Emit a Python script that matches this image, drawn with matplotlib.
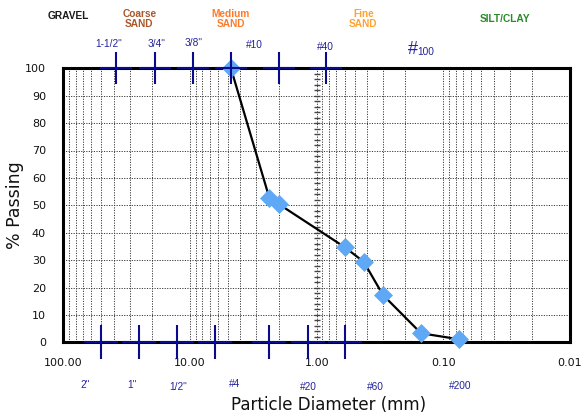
import numpy as np
import matplotlib
matplotlib.use("Agg")
import matplotlib.pyplot as plt
from matplotlib.ticker import LogLocator, FixedLocator, FuncFormatter

# ---- data ----
diam_mm = [4.75, 2.36, 2.0, 0.6, 0.425, 0.3, 0.15, 0.075]
pct_passing = [100, 52.6, 50.5, 34.7, 29.4, 17.3, 3.3, 1.1]

top_sieves = [38.1, 19.05, 9.5, 4.75, 2.0, 0.85]
bottom_sieves = [50.8, 25.4, 12.7, 6.35, 2.36, 1.18, 0.6]

x_ticks = [100, 10, 1, 0.1, 0.01]
y_ticks = list(range(0, 101, 10))

# label, pixel x, pixel y
top_sieve_labels = [('1-1/2"', 108.3, 44.3), ('3/4"', 156.7, 44.3), ('3/8"', 193.3, 43.3),
                    ('#10', 254.3, 44.8), ('#40', 325.5, 46.7)]
bottom_sieve_labels = [('2"', 85, 385), ('1"', 131.7, 385), ('1/2"', 178, 387),
                       ('#4', 235, 384), ('#20', 308, 386.7), ('#60', 375, 386.7),
                       ('#200', 460, 385.7)]
soil_classes = [('GRAVEL', 68.3, 16, '#1a1a1a'), ('Coarse\nSAND', 139.3, 19, '#A9572A'),
                ('Medium\nSAND', 230.7, 19, '#FF7A28'), ('Fine\nSAND', 363.3, 19, '#FFA22E'),
                ('SILT/CLAY', 505, 19.5, '#2A8A2A')]

W, H = 583, 416
fig = plt.figure(figsize=(W / 100, H / 100), dpi=100)
ax = fig.add_axes([63.3 / W, 1 - 342.3 / H, (570 - 63.3) / W, (342.3 - 68.3) / H])

ax.set_xscale('log')
ax.set_xlim(100, 0.01)
ax.set_ylim(0, 100)

dot = (0, (1.2, 1.4))
ax.xaxis.set_major_locator(FixedLocator(x_ticks))
ax.xaxis.set_minor_locator(LogLocator(base=10, subs=np.arange(2, 10)))
ax.xaxis.set_major_formatter(FuncFormatter(lambda v, p: f"{v:.2f}"))
ax.xaxis.set_minor_formatter(FuncFormatter(lambda v, p: ""))
ax.set_yticks(y_ticks)
ax.grid(True, which='both', axis='x', color='#3a3a3a', linestyle=dot, linewidth=0.7)
ax.grid(True, which='major', axis='y', color='#3a3a3a', linestyle=dot, linewidth=0.7)
ax.tick_params(axis='both', which='both', length=0)
ax.tick_params(axis='x', pad=11, labelsize=8, labelcolor='#111111')
ax.tick_params(axis='y', pad=12.5, labelsize=8, labelcolor='#111111')
for s in ax.spines.values():
    s.set_linewidth(2.2)
    s.set_color('black')

# little tick ladder at x = 1
ax.plot([1] * 51, np.arange(0, 101, 2), linestyle='none', marker='_', markersize=5,
        markeredgewidth=1.0, color='#444444', zorder=2, clip_on=False)

# gradation curve
ax.plot(diam_mm, pct_passing, color='black', linewidth=1.6, zorder=3)
ax.plot(diam_mm, pct_passing, linestyle='none', marker='D', markersize=9.5,
        markerfacecolor='#5EA8F6', markeredgecolor='#5EA8F6', markeredgewidth=0.5,
        zorder=4, clip_on=False)

# sieve crosses
navy = '#0A0A8C'
ax.plot(top_sieves, [100] * len(top_sieves), linestyle='none', marker='+', markersize=23,
        markeredgewidth=1.5, color=navy, zorder=6, clip_on=False)
ax.plot(bottom_sieves, [0] * len(bottom_sieves), linestyle='none', marker='+', markersize=24,
        markeredgewidth=1.5, color=navy, zorder=6, clip_on=False)

def fx(px):
    return px / W

def fy(py):
    return 1 - py / H

lab_col = '#23239C'
for t, x, y in top_sieve_labels + bottom_sieve_labels:
    fig.text(fx(x), fy(y), t, ha='center', va='center', fontsize=7.3,
             family='Liberation Sans', color=lab_col)
fig.text(fx(412.7), fy(49), '#', ha='center', va='center', fontsize=13,
         family='Liberation Sans', color=lab_col)
fig.text(fx(425.5), fy(51.8), '100', ha='center', va='center', fontsize=7.3,
         family='Liberation Sans', color=lab_col)

for t, x, y, c in soil_classes:
    fig.text(fx(x), fy(y), t, ha='center', va='center', fontsize=7.3, fontweight='bold',
             family='Liberation Sans', color=c, linespacing=1.05)

fig.text(fx(329), fy(405), 'Particle Diameter (mm)', ha='center', va='center',
         fontsize=12, color='#111111')
fig.text(fx(15), fy(205), '% Passing', ha='center', va='center', rotation=90,
         fontsize=12.5, color='#111111')

fig.savefig('out.png', dpi=100)
